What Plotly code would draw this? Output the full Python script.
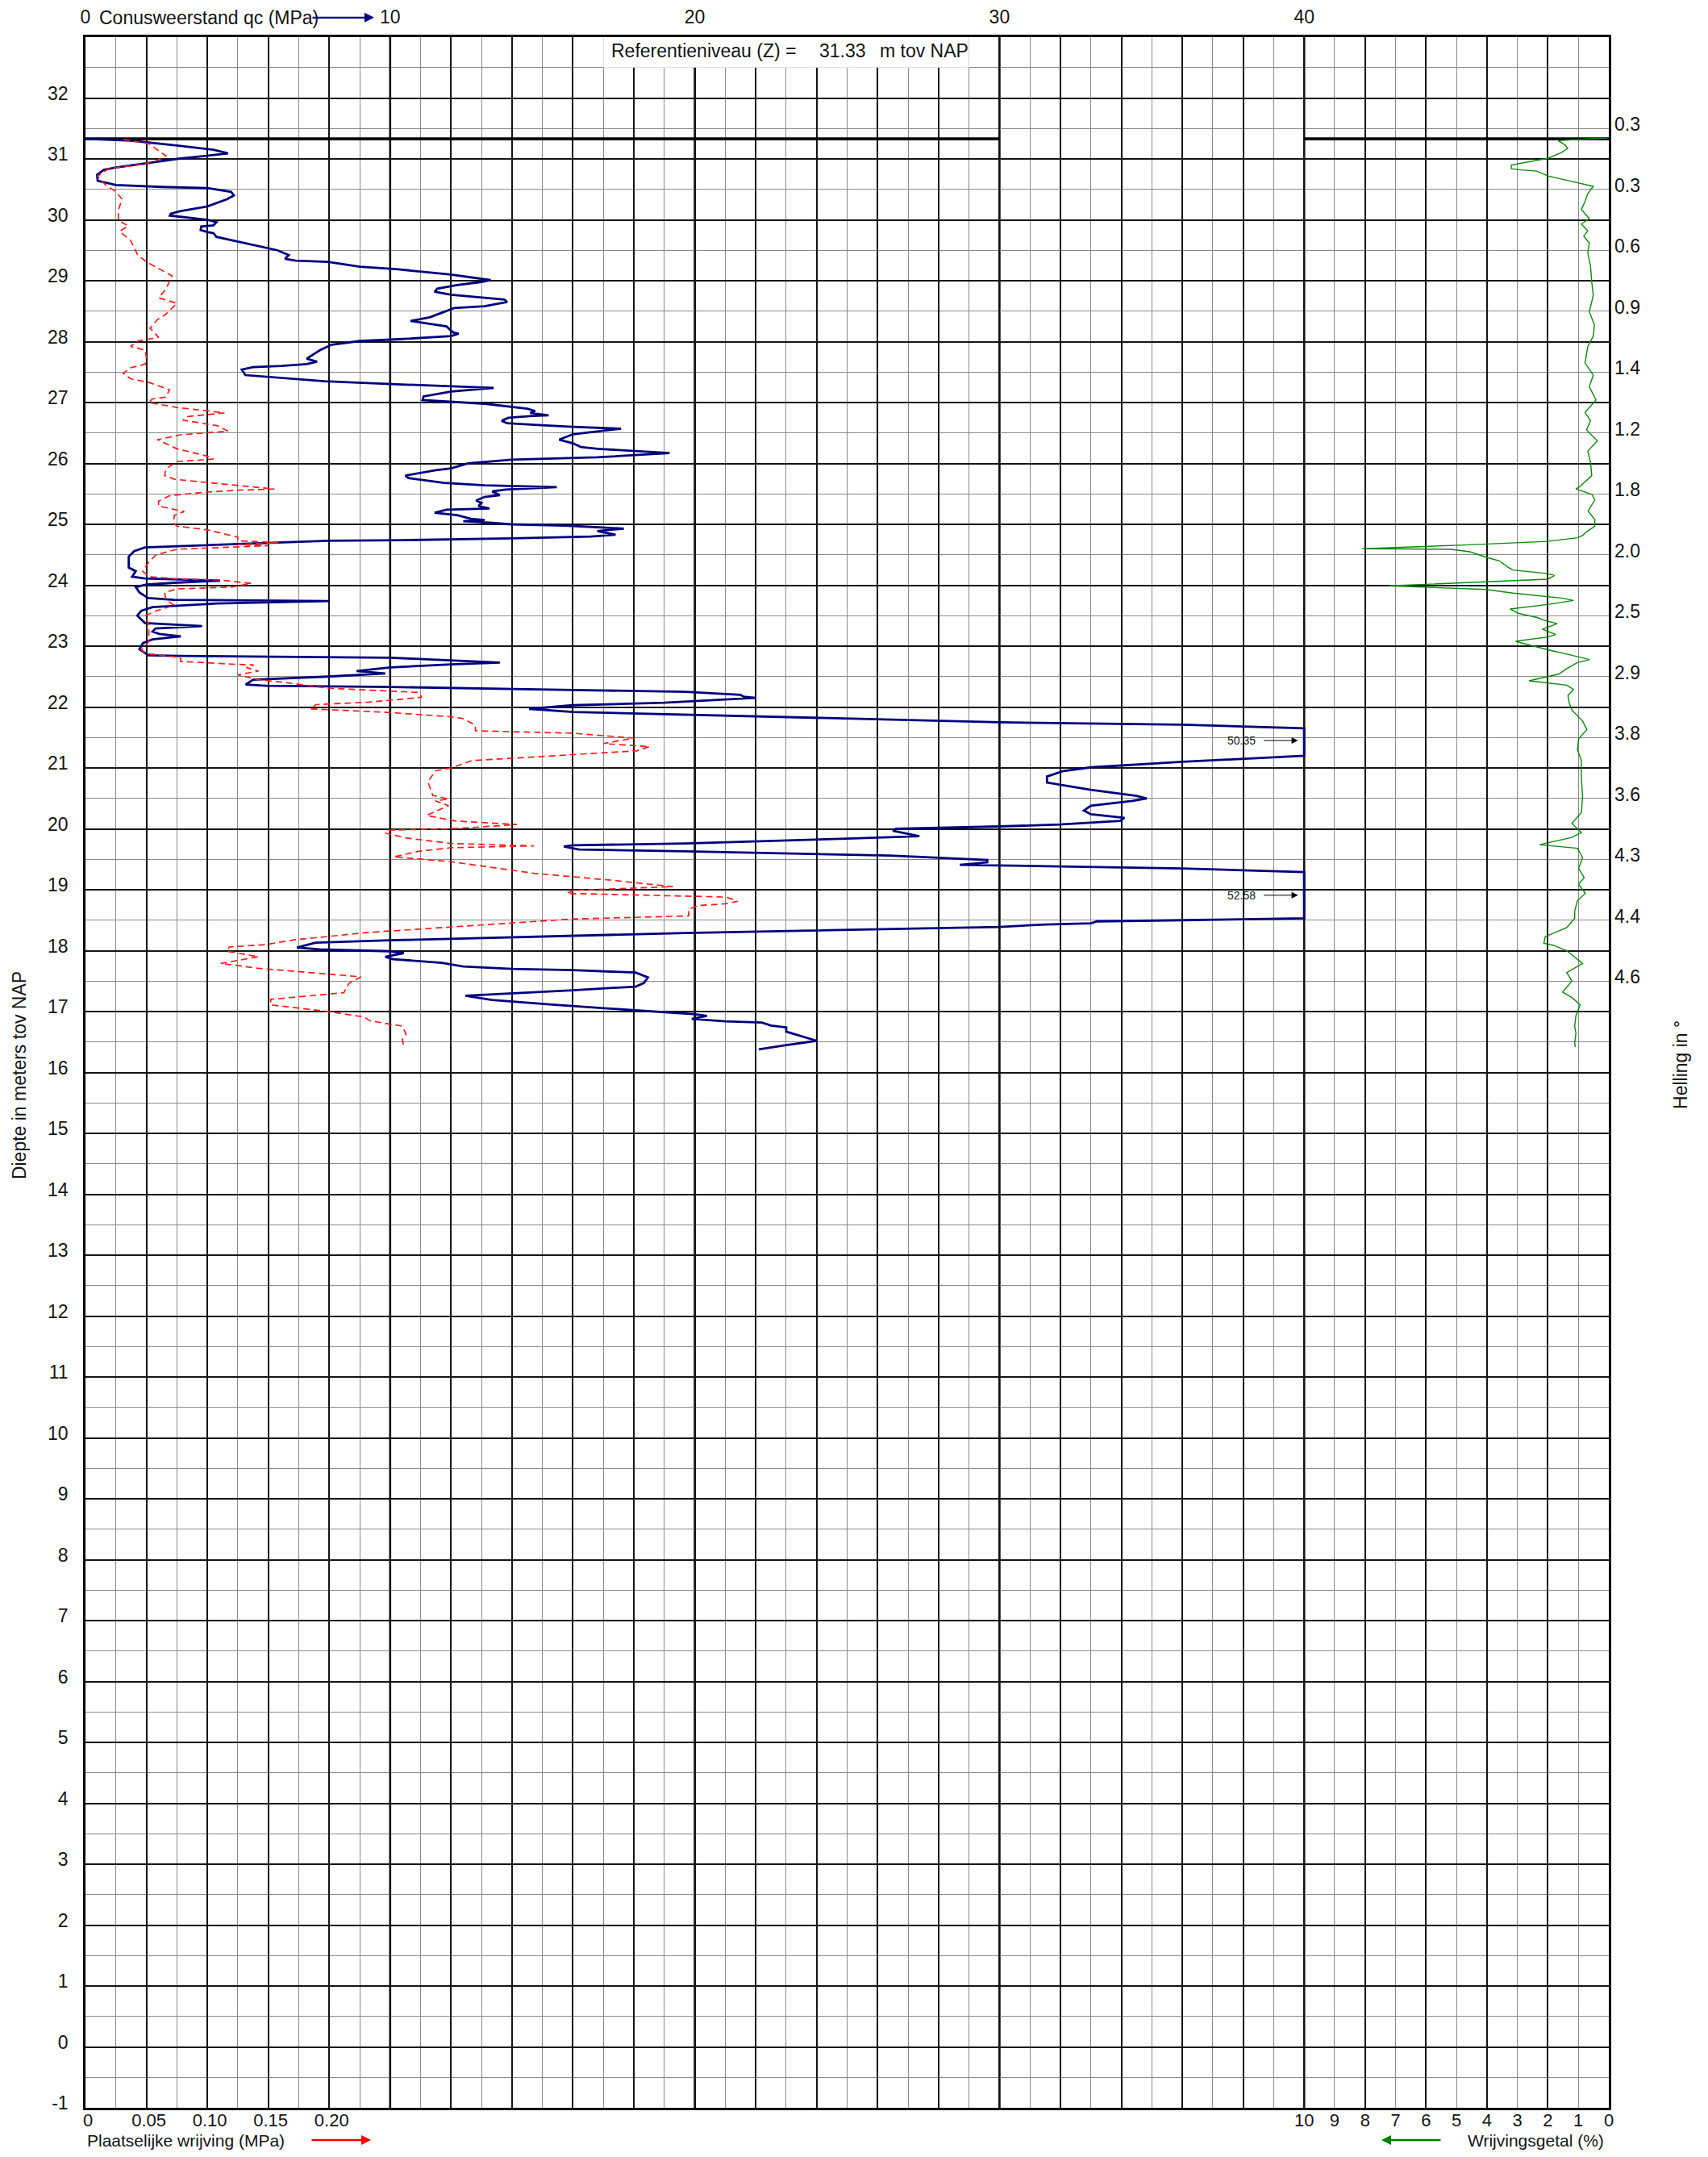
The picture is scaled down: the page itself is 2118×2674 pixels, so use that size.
import plotly.graph_objects as go

# ---------------- data ----------------
# Conusweerstand qc (MPa) vs depth (m tov NAP)
qc_depth = [31.33, 31.30, 31.22, 31.15, 31.09, 31.05, 31.00, 30.93, 30.86, 30.82, 30.74, 30.64, 30.57, 30.54,
            30.52, 30.46, 30.40, 30.34, 30.22, 30.14, 30.10, 30.07, 30.04, 30.00, 29.96, 29.91, 29.89, 29.83,
            29.80, 29.78, 29.72, 29.64, 29.54, 29.50, 29.42, 29.36, 29.33, 29.31, 29.23, 29.19, 29.10, 29.03,
            29.01, 28.98, 28.93, 28.87, 28.82, 28.77, 28.72, 28.69, 28.65, 28.58, 28.55, 28.46, 28.40, 28.34,
            28.29, 28.25, 28.18, 28.15, 28.13, 28.09, 28.04, 28.01, 27.95, 27.86, 27.72, 27.67, 27.63, 27.60,
            27.58, 27.54, 27.45, 27.38, 27.35, 27.30, 27.27, 27.24, 27.18, 27.10, 27.04, 27.01, 26.98, 26.90,
            26.86, 26.83, 26.81, 26.79, 26.78, 26.75, 26.70, 26.66, 26.63, 26.60, 26.57, 26.48, 26.39, 26.33,
            26.27, 26.24, 26.17, 26.10, 26.06, 26.00, 25.92, 25.89, 25.80, 25.76, 25.68, 25.64, 25.61, 25.57,
            25.54, 25.48, 25.45, 25.39, 25.35, 25.30, 25.26, 25.24, 25.19, 25.15, 25.09, 25.07, 25.05, 25.04,
            25.00, 24.98, 24.93, 24.89, 24.83, 24.80, 24.77, 24.74, 24.73, 24.66, 24.62, 24.56, 24.47, 24.29,
            24.23, 24.14, 24.11, 24.08, 24.075, 24.04, 24.01, 23.97, 23.88, 23.79, 23.76, 23.74, 23.70, 23.64,
            23.58, 23.50, 23.38, 23.33, 23.29, 23.24, 23.20, 23.16, 23.11, 23.05, 22.95, 22.89, 22.85, 22.84,
            22.81, 22.73, 22.70, 22.65, 22.59, 22.55, 22.50, 22.45, 22.37, 22.35, 22.33, 22.28, 22.25, 22.20,
            22.17, 22.15, 22.09, 22.07, 22.03, 21.97, 21.92, 21.87, 21.81, 21.75, 21.71, 21.65, 21.20, 21.10,
            21.01, 20.95, 20.86, 20.76, 20.64, 20.54, 20.50, 20.46, 20.38, 20.30, 20.24, 20.18, 20.13, 20.07,
            20.04, 20.00, 19.97, 19.88, 19.84, 19.76, 19.73, 19.71, 19.66, 19.63, 19.56, 19.49, 19.45, 19.41,
            19.40, 19.35, 19.29, 18.53, 18.50, 18.48, 18.45, 18.43, 18.39, 18.34, 18.29, 18.17, 18.13, 18.05,
            18.02, 17.99, 17.96, 17.90, 17.86, 17.80, 17.74, 17.70, 17.68, 17.64, 17.56, 17.47, 17.41, 17.35,
            17.28, 17.26, 17.19, 17.11, 17.02, 16.96, 16.93, 16.88, 16.84, 16.82, 16.77, 16.74, 16.67, 16.52,
            16.45, 16.38]
qc_values = [0.0, 1.5, 3.0, 4.2, 4.68, 4.0, 3.0, 2.0, 1.0, 0.6, 0.38, 0.4, 1.0, 2.5,
             4.0, 4.78, 4.87, 4.66, 4.0, 3.1, 2.8, 2.77, 3.36, 4.0, 4.3, 4.2, 3.8, 3.78,
             4.0, 4.2, 4.3, 5.0, 5.9, 6.3, 6.67, 6.55, 6.9, 7.96, 9.0, 10.2, 12.0, 13.0,
             13.3, 13.0, 12.2, 11.55, 11.46, 12.0, 13.1, 13.75, 13.84, 13.1, 12.1, 11.6, 11.3, 10.67,
             11.4, 11.85, 12.0, 12.07, 12.25, 12.0, 10.3, 9.0, 8.08, 7.7, 7.26, 7.6, 7.26, 6.43,
             5.5, 5.13, 5.25, 7.0, 7.85, 10.2, 12.0, 13.4, 12.0, 11.1, 11.06, 11.94, 13.1, 14.5,
             14.76, 14.6, 14.94, 15.2, 14.67, 13.88, 13.66, 13.84, 14.85, 16.0, 17.58, 16.0, 15.55, 16.0,
             16.26, 16.8, 19.17, 16.8, 13.97, 12.56, 12.0, 11.5, 10.5, 10.6, 11.77, 13.1, 15.47, 13.8,
             13.35, 13.6, 13.1, 12.82, 13.0, 12.9, 13.26, 11.85, 11.46, 12.2, 12.65, 13.1, 12.4, 12.9,
             13.97, 15.73, 17.67, 16.8, 17.4, 16.6, 14.0, 10.4, 7.96, 4.0, 1.95, 1.6, 1.42, 1.42,
             1.65, 1.53, 1.95, 4.0, 4.42, 2.9, 2.0, 1.65, 1.77, 2.06, 2.9, 8.0, 4.3, 2.2,
             1.83, 1.7, 1.95, 3.83, 2.3, 2.2, 2.42, 3.13, 2.2, 1.89, 1.77, 1.95, 2.06, 3.1,
             10.0, 13.6, 12.0, 10.0, 8.9, 9.84, 7.95, 5.5, 5.26, 5.93, 10.0, 16.0, 19.7, 21.5,
             21.6, 22.0, 19.7, 19.0, 16.0, 14.56, 16.0, 20.0, 25.0, 30.0, 36.0, 40.0, 40.0, 36.0,
             33.0, 32.1, 31.56, 31.56, 33.0, 34.5, 34.83, 34.36, 33.0, 32.77, 33.0, 34.1, 33.96, 31.96,
             30.0, 26.6, 26.5, 27.37, 25.0, 19.7, 16.0, 15.7, 16.2, 19.7, 26.4, 29.6, 29.6, 28.7,
             30.0, 36.0, 40.0, 40.0, 36.0, 33.2, 33.0, 31.5, 30.0, 25.0, 19.7, 10.0, 7.55, 6.94,
             7.68, 10.0, 10.45, 9.84, 10.1, 11.7, 12.4, 14.0, 16.0, 18.06, 18.46, 18.33, 18.06, 16.0,
             12.94, 12.47, 13.34, 15.4, 18.06, 19.95, 20.4, 19.9, 21.0, 22.2, 22.5, 23.0, 23.0, 24.0,
             23.0, 22.1]

# Plaatselijke wrijving fs (MPa) vs depth
fs_depth = [31.32, 31.25, 31.05, 30.97, 30.91, 30.84, 30.72, 30.58, 30.46, 30.34, 30.16, 29.99, 29.90, 29.81,
            29.66, 29.42, 29.31, 29.22, 29.08, 28.86, 28.72, 28.63, 28.45, 28.36, 28.22, 28.07, 28.04, 28.01,
            27.92, 27.86, 27.74, 27.63, 27.57, 27.48, 27.39, 27.33, 27.21, 27.09, 27.06, 27.00, 26.92, 26.86,
            26.83, 26.77, 26.71, 26.62, 26.53, 26.47, 26.39, 26.24, 26.12, 26.07, 26.03, 25.91, 25.80, 25.74,
            25.68, 25.64, 25.58, 25.56, 25.53, 25.47, 25.38, 25.30, 25.25, 25.21, 25.15, 25.03, 24.97, 24.91,
            24.79, 24.73, 24.70, 24.67, 24.65, 24.62, 24.59, 24.50, 24.38, 24.23, 24.14, 24.10, 24.09, 24.03,
            23.97, 23.94, 23.88, 23.76, 23.67, 23.58, 23.50, 23.35, 23.08, 23.00, 22.94, 22.88, 22.82, 22.80,
            22.75, 22.70, 22.69, 22.65, 22.59, 22.53, 22.45, 22.40, 22.31, 22.24, 22.16, 22.08, 22.04, 21.97,
            21.91, 21.84, 21.81, 21.70, 21.61, 21.57, 21.49, 21.40, 21.35, 21.28, 21.22, 21.12, 21.00, 20.95,
            20.77, 20.55, 20.49, 20.46, 20.38, 20.22, 20.13, 20.07, 20.00, 19.98, 19.93, 19.85, 19.76, 19.72,
            19.69, 19.63, 19.54, 19.51, 19.46, 19.27, 19.15, 19.05, 18.99, 18.94, 18.88, 18.85, 18.81, 18.77,
            18.74, 18.68, 18.57, 18.52, 18.41, 18.30, 18.18, 18.10, 18.06, 17.99, 17.90, 17.79, 17.71, 17.62,
            17.57, 17.46, 17.31, 17.20, 17.11, 17.00, 16.91, 16.85, 16.76, 16.63, 16.54, 16.45]
fs_values = [0.031, 0.052, 0.066, 0.058, 0.046, 0.019, 0.010, 0.016, 0.025, 0.030, 0.027, 0.027, 0.035, 0.028,
             0.037, 0.043, 0.050, 0.058, 0.071, 0.066, 0.060, 0.075, 0.066, 0.059, 0.053, 0.060, 0.052, 0.043,
             0.037, 0.049, 0.050, 0.049, 0.037, 0.031, 0.037, 0.052, 0.069, 0.066, 0.055, 0.052, 0.075, 0.100,
             0.114, 0.084, 0.080, 0.108, 0.117, 0.078, 0.059, 0.075, 0.100, 0.105, 0.075, 0.066, 0.065, 0.073,
             0.102, 0.125, 0.155, 0.125, 0.100, 0.069, 0.060, 0.060, 0.073, 0.081, 0.073, 0.072, 0.075, 0.100,
             0.125, 0.125, 0.158, 0.125, 0.150, 0.108, 0.075, 0.058, 0.052, 0.047, 0.052, 0.078, 0.108, 0.136,
             0.120, 0.075, 0.065, 0.066, 0.073, 0.058, 0.049, 0.052, 0.052, 0.049, 0.046, 0.049, 0.075, 0.078,
             0.078, 0.125, 0.138, 0.132, 0.142, 0.125, 0.142, 0.165, 0.199, 0.273, 0.276, 0.233, 0.189, 0.185,
             0.250, 0.300, 0.310, 0.320, 0.320, 0.400, 0.450, 0.425, 0.463, 0.452, 0.400, 0.317, 0.300, 0.287,
             0.281, 0.285, 0.298, 0.287, 0.298, 0.280, 0.303, 0.354, 0.300, 0.250, 0.246, 0.263, 0.300, 0.368,
             0.300, 0.273, 0.253, 0.273, 0.300, 0.368, 0.435, 0.482, 0.400, 0.395, 0.525, 0.530, 0.535, 0.525,
             0.503, 0.495, 0.495, 0.400, 0.320, 0.233, 0.172, 0.148, 0.118, 0.116, 0.142, 0.111, 0.142, 0.199,
             0.226, 0.216, 0.212, 0.152, 0.152, 0.199, 0.229, 0.233, 0.260, 0.263, 0.260, 0.261]

# Wrijvingsgetal Rf (%) vs depth
rf_depth = [31.34, 31.335, 31.30, 31.23, 31.17, 31.10, 31.01, 30.94, 30.90, 30.84, 30.82, 30.80, 30.72, 30.66,
            30.61, 30.55, 30.43, 30.30, 30.17, 30.02, 29.93, 29.82, 29.73, 29.62, 29.46, 29.24, 28.98, 28.76,
            28.49, 28.27, 28.09, 27.92, 27.65, 27.45, 27.26, 27.04, 26.84, 26.70, 26.55, 26.37, 26.20, 26.02,
            25.80, 25.62, 25.58, 25.49, 25.40, 25.22, 25.08, 24.97, 24.87, 24.82, 24.78, 24.72, 24.66, 24.60,
            24.59, 24.55, 24.46, 24.40, 24.30, 24.25, 24.19, 24.16, 24.10, 24.04, 23.99, 23.93, 23.87, 23.79,
            23.75, 23.69, 23.61, 23.54, 23.47, 23.42, 23.37, 23.28, 23.19, 23.15, 23.08, 23.02, 22.94, 22.85,
            22.78, 22.73, 22.63, 22.54, 22.43, 22.36, 22.29, 22.19, 22.07, 21.95, 21.77, 21.63, 21.48, 21.30,
            21.12, 20.83, 20.53, 20.27, 20.09, 19.94, 19.86, 19.74, 19.68, 19.53, 19.35, 19.20, 19.09, 18.94,
            18.82, 18.65, 18.53, 18.38, 18.23, 18.12, 18.09, 18.00, 17.79, 17.64, 17.50, 17.32, 17.23, 17.11,
            16.93, 16.76, 16.64, 16.49, 16.42]
rf_values = [0.05, 0.5, 1.66, 1.44, 1.35, 1.57, 2.0, 2.71, 3.2, 3.2, 2.89, 2.36, 2.0, 1.48,
             1.04, 0.51, 0.69, 0.78, 0.9, 0.64, 0.9, 0.69, 0.82, 0.64, 0.69, 0.6, 0.56, 0.51,
             0.64, 0.47, 0.51, 0.69, 0.78, 0.51, 0.64, 0.42, 0.78, 0.6, 0.73, 0.38, 0.69, 0.6,
             0.56, 0.95, 1.08, 0.55, 0.46, 0.68, 0.46, 0.46, 0.75, 0.85, 1.03, 2.0, 4.74, 8.09,
             5.18, 4.56, 4.03, 3.59, 3.32, 3.15, 2.0, 1.78, 2.0, 4.74, 7.2, 4.03, 3.15, 1.56,
             1.16, 1.91, 3.24, 2.97, 2.35, 2.09, 1.69, 2.18, 1.74, 2.0, 3.06, 2.62, 2.0, 1.21,
             0.63, 1.03, 1.38, 1.65, 2.62, 1.38, 1.16, 1.34, 1.3, 1.21, 0.86, 0.72, 0.99, 1.03,
             0.9, 0.9, 0.86, 0.9, 1.21, 0.9, 1.21, 2.27, 1.03, 0.86, 0.99, 0.81, 0.99, 0.77,
             1.03, 1.12, 1.12, 1.38, 2.09, 2.13, 1.83, 1.38, 0.86, 1.38, 1.21, 1.52, 1.21, 0.94,
             1.08, 1.12, 1.08, 1.12, 1.1]

# Helling (inclination, degrees) labels on right side
helling_depth = [31.5, 30.5, 29.5, 28.5, 27.5, 26.5, 25.5, 24.5, 23.5, 22.5, 21.5, 20.5, 19.5, 18.5, 17.5]
helling_text = ["0.3", "0.3", "0.6", "0.9", "1.4", "1.2", "1.8", "2.0", "2.5", "2.9", "3.8", "3.6", "4.3", "4.4", "4.6"]

# Off-scale qc values
offscale_depth = [21.45, 18.91]
offscale_text = ["50.35", "52.58"]

ref_level = 31.33

qc_ticks = [0, 10, 20, 30, 40]
fs_ticks = [0, 0.05, 0.10, 0.15, 0.20]
fs_ticktext = ["0", "0.05", "0.10", "0.15", "0.20"]
rf_ticks = list(range(0, 11))
depth_ticks = list(range(-1, 33))

# ---------------- figure ----------------
FONT = "Liberation Sans, Arial, sans-serif"
BLACK = "#141414"
GRAY = "#8a8a8a"
FS = 23
FS_BOT = 22

fig = go.Figure()
fig.add_trace(go.Scatter(x=qc_values, y=qc_depth, mode="lines", xaxis="x", yaxis="y",
                         line=dict(color="#00007f", width=2.8), showlegend=False, hoverinfo="skip"))
fig.add_trace(go.Scatter(x=fs_values, y=fs_depth, mode="lines", xaxis="x2", yaxis="y",
                         line=dict(color="#ff1a1a", width=1.7, dash="8px,5px"), showlegend=False, hoverinfo="skip"))
fig.add_trace(go.Scatter(x=rf_values, y=rf_depth, mode="lines", xaxis="x3", yaxis="y",
                         line=dict(color="#0a8a0a", width=1.4), showlegend=False, hoverinfo="skip"))

major_x = list(range(0, 51, 2))
minor_x = list(range(1, 50, 2))
x_ticktext = [str(v) if v in qc_ticks else "" for v in major_x]

# the page body has an 8px margin: shrink the figure and shift margins to compensate
fig.update_layout(
    template="none",
    width=2102, height=2658, autosize=False,
    margin=dict(l=98, r=115, t=38, b=53, autoexpand=False),
    paper_bgcolor="white", plot_bgcolor="white",
    font=dict(family=FONT, size=FS, color=BLACK),
    showlegend=False, hovermode=False,
    xaxis=dict(
        range=[0, 50], side="top", anchor="y", automargin=False,
        tickmode="array", tickvals=major_x, ticktext=x_ticktext,
        ticks="outside", ticklen=5, tickcolor="rgba(0,0,0,0)",
        showgrid=True, gridcolor=BLACK, gridwidth=1.5,
        minor=dict(tickvals=minor_x, showgrid=True, gridcolor=GRAY, gridwidth=1.2, ticks=""),
        showline=True, linecolor="black", linewidth=2.5, mirror=True,
        zeroline=False, tickfont=dict(size=FS),
    ),
    xaxis2=dict(
        range=[0, 1.25], overlaying="x", side="bottom", anchor="y", automargin=False,
        tickmode="array", tickvals=fs_ticks, ticktext=fs_ticktext,
        ticks="", ticklabelshift=3,
        showgrid=False, zeroline=False, showline=False, tickfont=dict(size=FS_BOT),
    ),
    xaxis3=dict(
        range=[50, 0], overlaying="x", side="bottom", anchor="y", automargin=False,
        tickmode="array", tickvals=rf_ticks, ticktext=[str(v) for v in rf_ticks],
        ticks="",
        showgrid=False, zeroline=False, showline=False, tickfont=dict(size=FS_BOT),
    ),
    yaxis=dict(
        range=[-1, 33], anchor="x", automargin=False,
        tickmode="array", tickvals=depth_ticks, ticktext=[str(v) for v in depth_ticks],
        ticks="outside", ticklen=14, tickcolor="rgba(0,0,0,0)", ticklabelshift=-6,
        showgrid=True, gridcolor=BLACK, gridwidth=1.5,
        minor=dict(tickvals=[v + 0.5 for v in range(-1, 33)], showgrid=True, gridcolor=GRAY, gridwidth=1.2, ticks=""),
        showline=True, linecolor="black", linewidth=2.5, mirror=True,
        zeroline=False, tickfont=dict(size=FS),
    ),
)

# heavier grid lines at every 10 MPa
for v in qc_ticks[1:]:
    fig.add_shape(type="line", xref="x", yref="paper", x0=v, x1=v, y0=0, y1=1,
                  line=dict(color="black", width=2.6), layer="between")

# reference level line (drawn in two parts as in the original) and header box
fig.add_shape(type="line", xref="x", yref="y", x0=0, x1=30, y0=ref_level, y1=ref_level,
              line=dict(color="black", width=3.6), layer="between")
fig.add_shape(type="line", xref="x", yref="y", x0=40, x1=50, y0=ref_level, y1=ref_level,
              line=dict(color="black", width=3.6), layer="between")
fig.add_shape(type="rect", xref="x", yref="y", x0=17, x1=29, y0=32.5, y1=33,
              fillcolor="white", line=dict(width=0), layer="between")

ann = []
ann.append(dict(x=17.2, y=32.77, xref="x", yref="y", text="Referentieniveau (Z) =", showarrow=False,
                xanchor="left", yanchor="middle", font=dict(size=FS)))
ann.append(dict(x=24.04, y=32.77, xref="x", yref="y", text=f"{ref_level:.2f}", showarrow=False,
                xanchor="left", yanchor="middle", font=dict(size=FS)))
ann.append(dict(x=26.03, y=32.77, xref="x", yref="y", text="m tov NAP", showarrow=False,
                xanchor="left", yanchor="middle", font=dict(size=FS)))

# helling (inclination) values along the right edge
for d, t in zip(helling_depth, helling_text):
    ann.append(dict(x=1.0026, y=d, xref="paper", yref="y", text=t, showarrow=False,
                    xanchor="left", yanchor="middle", yshift=5, font=dict(size=FS)))

# off-scale labels with arrows
for d, t in zip(offscale_depth, offscale_text):
    ann.append(dict(x=38.45, y=d, xref="x", yref="y", text=t, showarrow=False,
                    xanchor="right", yanchor="middle", font=dict(size=14, color="#222222")))
    ann.append(dict(x=39.8, y=d, xref="x", yref="y", text="", showarrow=True, ax=-44, ay=0,
                    arrowhead=2, arrowsize=1.6, arrowwidth=1, arrowcolor="black", standoff=0))

# top axis title with blue arrow
TOP_Y = 1.0094
ann.append(dict(x=0.0079, y=TOP_Y, xref="paper", yref="paper", text="Conusweerstand qc (MPa)",
                showarrow=False, xanchor="left", yanchor="middle", font=dict(size=FS)))
ann.append(dict(x=0.1895, y=TOP_Y, xref="paper", yref="paper", text="", showarrow=True, ax=-78, ay=0,
                arrowhead=2, arrowsize=1.0, arrowwidth=2.4, arrowcolor="#00007f", standoff=0))

# bottom titles with red and green arrows (kept inside the figure so nothing is clipped)
BOT_Y = -0.0156
FS_TITLE_BOT = 21
ann.append(dict(x=0.0, y=BOT_Y, xref="paper", yref="paper", text="Plaatselijke wrijving (MPa)",
                showarrow=False, xanchor="left", yanchor="middle", font=dict(size=FS_TITLE_BOT)))
ann.append(dict(x=0.1874, y=BOT_Y, xref="paper", yref="paper", text="", showarrow=True, ax=-75, ay=0,
                arrowhead=2, arrowsize=1.0, arrowwidth=2.4, arrowcolor="#ff0000", standoff=0))
ann.append(dict(x=0.9979, y=BOT_Y, xref="paper", yref="paper", text="Wrijvingsgetal (%)",
                showarrow=False, xanchor="right", yanchor="middle", font=dict(size=FS_TITLE_BOT)))
ann.append(dict(x=0.8507, y=BOT_Y, xref="paper", yref="paper", text="", showarrow=True, ax=75, ay=0,
                arrowhead=2, arrowsize=1.0, arrowwidth=2.4, arrowcolor="#008000", standoff=0))

# side titles
ann.append(dict(x=-0.0434, y=0.4986, xref="paper", yref="paper", text="Diepte in meters tov NAP",
                showarrow=False, textangle=-90, xanchor="center", yanchor="middle", font=dict(size=FS)))
ann.append(dict(x=1.0471, y=0.5037, xref="paper", yref="paper", text="Helling in °",
                showarrow=False, textangle=-90, xanchor="center", yanchor="middle", font=dict(size=FS)))

fig.update_layout(annotations=ann)

fig.write_html("out.html")
